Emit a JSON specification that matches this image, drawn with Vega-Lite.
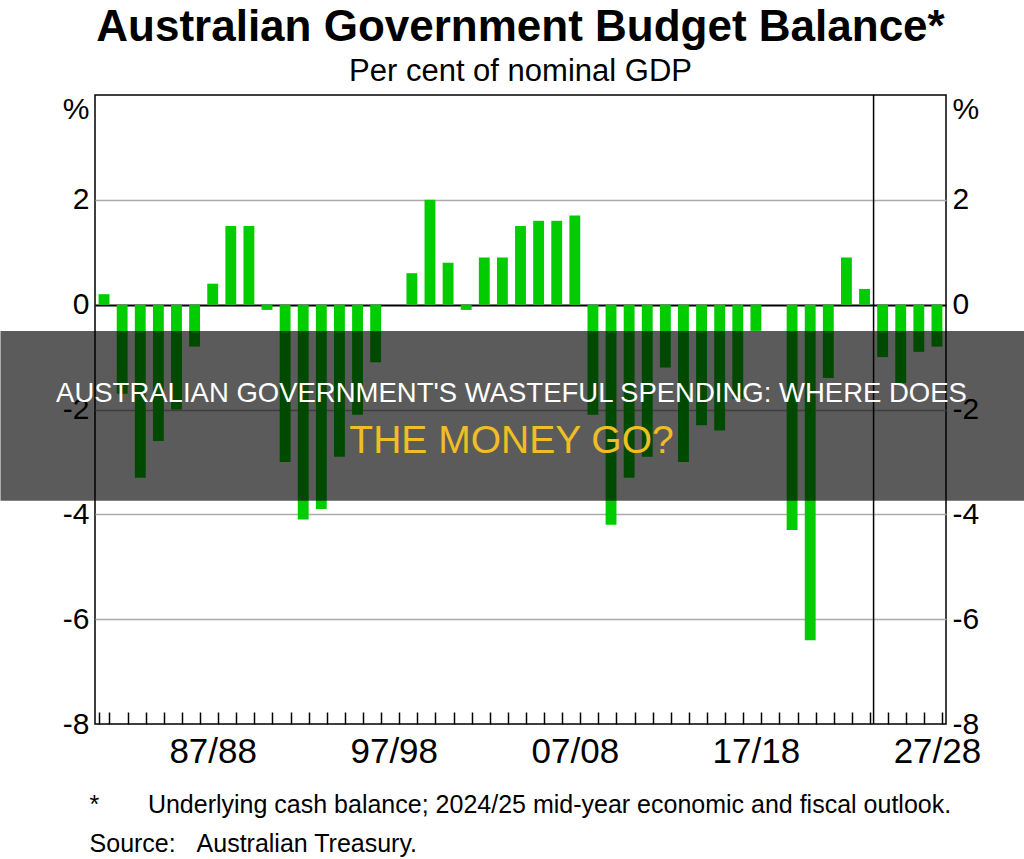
{
  "$schema": "https://vega.github.io/schema/vega-lite/v6.json",
  "width": 851,
  "height": 629,
  "autosize": {"type": "none"},
  "padding": {"left": 95, "top": 95, "right": 78, "bottom": 135},
  "background": "white",
  "config": {
    "view": {"stroke": "black", "strokeWidth": 1.5},
    "font": "Liberation Sans"
  },
  "title": {
    "text": "Australian Government Budget Balance*",
    "subtitle": "Per cent of nominal GDP",
    "font": "Liberation Sans",
    "fontSize": 44,
    "fontWeight": "bold",
    "color": "black",
    "subtitleFont": "Liberation Sans",
    "subtitleFontSize": 31,
    "subtitleColor": "black",
    "anchor": "middle",
    "frame": "group",
    "offset": 7,
    "subtitlePadding": 7
  },
  "data": {
    "values": [
      {"year": "1981/82", "balance": 0.2},
      {"year": "1982/83", "balance": -1.7},
      {"year": "1983/84", "balance": -3.3},
      {"year": "1984/85", "balance": -2.6},
      {"year": "1985/86", "balance": -2.0},
      {"year": "1986/87", "balance": -0.8},
      {"year": "1987/88", "balance": 0.4},
      {"year": "1988/89", "balance": 1.5},
      {"year": "1989/90", "balance": 1.5},
      {"year": "1990/91", "balance": -0.1},
      {"year": "1991/92", "balance": -3.0},
      {"year": "1992/93", "balance": -4.1},
      {"year": "1993/94", "balance": -3.9},
      {"year": "1994/95", "balance": -2.9},
      {"year": "1995/96", "balance": -2.1},
      {"year": "1996/97", "balance": -1.1},
      {"year": "1997/98", "balance": 0.0},
      {"year": "1998/99", "balance": 0.6},
      {"year": "1999/00", "balance": 2.0},
      {"year": "2000/01", "balance": 0.8},
      {"year": "2001/02", "balance": -0.1},
      {"year": "2002/03", "balance": 0.9},
      {"year": "2003/04", "balance": 0.9},
      {"year": "2004/05", "balance": 1.5},
      {"year": "2005/06", "balance": 1.6},
      {"year": "2006/07", "balance": 1.6},
      {"year": "2007/08", "balance": 1.7},
      {"year": "2008/09", "balance": -2.1},
      {"year": "2009/10", "balance": -4.2},
      {"year": "2010/11", "balance": -3.3},
      {"year": "2011/12", "balance": -2.9},
      {"year": "2012/13", "balance": -1.2},
      {"year": "2013/14", "balance": -3.0},
      {"year": "2014/15", "balance": -2.3},
      {"year": "2015/16", "balance": -2.4},
      {"year": "2016/17", "balance": -1.8},
      {"year": "2017/18", "balance": -0.5},
      {"year": "2018/19", "balance": 0.0},
      {"year": "2019/20", "balance": -4.3},
      {"year": "2020/21", "balance": -6.4},
      {"year": "2021/22", "balance": -1.4},
      {"year": "2022/23", "balance": 0.9},
      {"year": "2023/24", "balance": 0.3},
      {"year": "2024/25", "balance": -1.0},
      {"year": "2025/26", "balance": -1.5},
      {"year": "2026/27", "balance": -0.9},
      {"year": "2027/28", "balance": -0.8}
    ]
  },
  "layer": [
    {
      "mark": {"type": "bar", "color": "#00cc00"},
      "encoding": {
        "x": {
          "field": "year",
          "type": "ordinal",
          "sort": null,
          "scale": {"paddingInner": 0.4, "paddingOuter": 0.2},
          "axis": {
            "title": null,
            "offset": -12,
            "tickBand": "extent",
            "ticks": true,
            "tickSize": 12,
            "tickOffset": -3.6,
            "labelOffset": 0,
            "tickColor": "black",
            "tickWidth": 1.5,
            "domain": false,
            "grid": false,
            "labelExpr": "indexof(['1987/88', '1997/98', '2007/08', '2017/18', '2027/28'], datum.value) >= 0 ? substring(datum.value + '', 2) : ''",
            "labelFont": "Liberation Sans",
            "labelFontSize": 35,
            "labelColor": "black",
            "labelPadding": 10,
            "labelAngle": 0,
            "labelOverlap": false
          }
        },
        "y": {
          "field": "balance",
          "type": "quantitative",
          "scale": {"domain": [-8, 4], "nice": false, "zero": false},
          "axis": {
            "orient": "left",
            "values": [-8, -6, -4, -2, 0, 2, 4],
            "title": null,
            "grid": true,
            "gridColor": {"condition": {"test": "datum.value === 0", "value": "black"}, "value": "#aaaaaa"},
            "gridWidth": {"condition": {"test": "datum.value === 0", "value": 2}, "value": 1.5},
            "gridOpacity": {"condition": {"test": "datum.value === 4 || datum.value === -8", "value": 0}, "value": 1},
            "ticks": false,
            "domain": false,
            "labelExpr": "datum.value === 4 ? '%' : '' + datum.value",
            "labelOffset": {"condition": {"test": "datum.value === 4", "value": 14}, "value": 0},
            "labelFont": "Liberation Sans",
            "labelFontSize": 30,
            "labelColor": "black",
            "labelPadding": 6
          }
        }
      }
    },
    {
      "mark": {"type": "bar", "opacity": 0},
      "encoding": {
        "x": {"field": "year", "type": "ordinal", "sort": null},
        "y": {
          "field": "balance",
          "type": "quantitative",
          "axis": {
            "orient": "right",
            "values": [-8, -6, -4, -2, 0, 2, 4],
            "title": null,
            "grid": false,
            "ticks": false,
            "domain": false,
            "labelExpr": "datum.value === 4 ? '%' : '' + datum.value",
            "labelOffset": {"condition": {"test": "datum.value === 4", "value": 14}, "value": 0},
            "labelFont": "Liberation Sans",
            "labelFontSize": 30,
            "labelColor": "black",
            "labelPadding": 6
          }
        }
      }
    },
    {
      "transform": [{"filter": "datum.year === '2024/25'"}],
      "mark": {"type": "rule", "color": "black", "strokeWidth": 1.5},
      "encoding": {
        "x": {"field": "year", "type": "ordinal", "sort": null, "bandPosition": -0.333}
      }
    },
    {
      "data": {"values": [{"band": "overlay"}]},
      "mark": {"type": "bar", "color": "black", "opacity": 0.645, "width": 1040},
      "encoding": {
        "x": {"datum": "2004/05"},
        "y": {"datum": -0.5, "axis": null},
        "y2": {"datum": -3.74}
      }
    },
    {
      "data": {"values": [{"line": "AUSTRALIAN GOVERNMENT'S WASTEFUL SPENDING: WHERE DOES"}]},
      "mark": {"type": "text", "color": "white", "fontSize": 27.5, "font": "Liberation Sans", "dx": -9, "baseline": "middle"},
      "encoding": {
        "y": {"datum": -1.7, "axis": null},
        "text": {"field": "line"}
      }
    },
    {
      "data": {"values": [{"line": "THE MONEY GO?"}]},
      "mark": {"type": "text", "color": "#f0be24", "fontSize": 39, "font": "Liberation Sans", "dx": -9, "baseline": "middle"},
      "encoding": {
        "y": {"datum": -2.6, "axis": null},
        "text": {"field": "line"}
      }
    },
    {
      "data": {"values": [{"note": "*\u00a0\u00a0\u00a0\u00a0\u00a0\u00a0\u00a0Underlying cash balance; 2024/25 mid-year economic and fiscal outlook."}]},
      "mark": {"type": "text", "color": "black", "fontSize": 25, "font": "Liberation Sans", "align": "left", "baseline": "alphabetic", "dx": -14.5},
      "encoding": {
        "x": {"datum": "1981/82"},
        "y": {"datum": -9.69, "axis": null},
        "text": {"field": "note"}
      }
    },
    {
      "data": {"values": [{"note": "Source:\u00a0\u00a0\u00a0Australian Treasury."}]},
      "mark": {"type": "text", "color": "black", "fontSize": 25, "font": "Liberation Sans", "align": "left", "baseline": "alphabetic", "dx": -14.5},
      "encoding": {
        "x": {"datum": "1981/82"},
        "y": {"datum": -10.44, "axis": null},
        "text": {"field": "note"}
      }
    }
  ],
  "resolve": {"axis": {"y": "independent"}}
}
